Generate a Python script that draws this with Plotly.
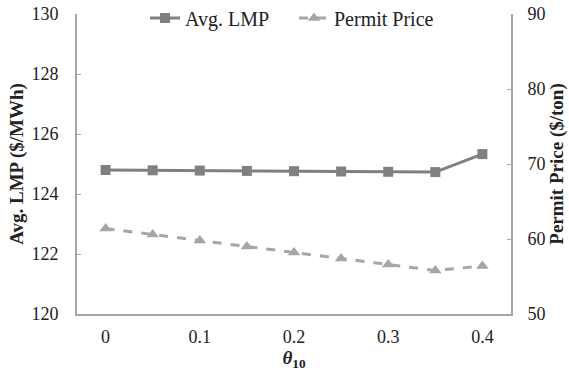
import plotly.graph_objects as go

theta = ["0", "0.05", "0.1", "0.15", "0.2", "0.25", "0.3", "0.35", "0.4"]
tick_labels = ["0", "0.1", "0.2", "0.3", "0.4"]
avg_lmp = [124.80, 124.79, 124.78, 124.77, 124.76, 124.75, 124.74, 124.73, 125.33]
permit_price = [61.4, 60.6, 59.8, 59.0, 58.2, 57.4, 56.6, 55.8, 56.4]

FONT = "Liberation Serif"
AXIS_GRAY = "#a6a6a6"

fig = go.Figure()
fig.add_trace(go.Scatter(
    x=theta, y=avg_lmp, name="Avg. LMP", mode="lines+markers",
    line=dict(color="#808080", width=3),
    marker=dict(symbol="square", size=10, color="#808080"),
    yaxis="y",
))
fig.add_trace(go.Scatter(
    x=theta, y=permit_price, name="Permit Price", mode="lines+markers",
    line=dict(color="#a6a6a6", width=3, dash="dash"),
    marker=dict(symbol="triangle-up", size=11, color="#a6a6a6"),
    yaxis="y2",
))

fig.update_layout(
    width=569, height=373,
    margin=dict(l=77, r=58, t=14, b=59, autoexpand=False),
    paper_bgcolor="white", plot_bgcolor="white",
    font=dict(family=FONT, size=18, color="#222222"),
    showlegend=True,
    legend=dict(orientation="h", x=0.5, xanchor="center",
                yref="container", y=1 - 18 / 373, yanchor="middle",
                entrywidth=104,
                font=dict(size=20, family=FONT), bgcolor="rgba(0,0,0,0)"),
    xaxis=dict(
        type="category", tickmode="array", tickvals=tick_labels, ticktext=tick_labels,
        showline=True, linecolor=AXIS_GRAY, linewidth=2, showgrid=False,
        ticks="", tickfont=dict(size=18, family=FONT), ticklabelstandoff=5,
        title=dict(text="<b><i>θ</i><sub>10</sub></b>", font=dict(size=19, family=FONT), standoff=4),
    ),
    yaxis=dict(
        range=[120, 130], dtick=2, showline=True, linecolor=AXIS_GRAY, linewidth=2,
        showgrid=False, zeroline=False, ticks="inside", ticklen=4, tickcolor=AXIS_GRAY,
        tickfont=dict(size=18, family=FONT), ticklabelstandoff=13,
        title=dict(text="<b>Avg. LMP ($/MWh)</b>", font=dict(size=19, family=FONT), standoff=3),
    ),
    yaxis2=dict(
        range=[50, 90], dtick=10, overlaying="y", side="right", showline=True,
        linecolor=AXIS_GRAY, linewidth=2, showgrid=False, zeroline=False,
        ticks="inside", ticklen=4, tickcolor=AXIS_GRAY,
        tickfont=dict(size=18, family=FONT), ticklabelstandoff=11,
        title=dict(text="<b>Permit Price ($/ton)</b>", font=dict(size=19, family=FONT), standoff=0),
    ),
)

fig.write_html("out.html")
